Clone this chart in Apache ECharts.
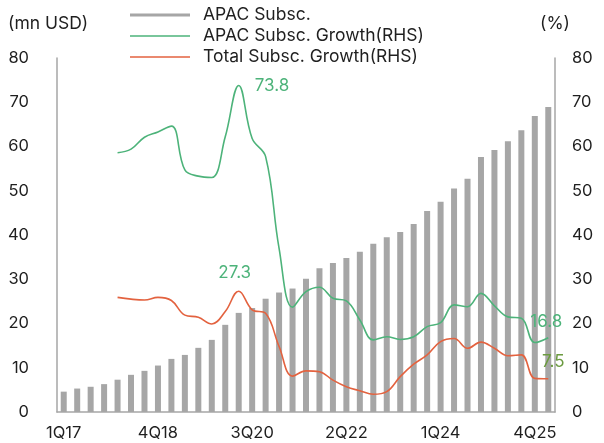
<!DOCTYPE html>
<html>
<head>
<meta charset="utf-8">
<script src="https://cdn.jsdelivr.net/npm/echarts@6/dist/echarts.min.js"></script>
<style>
  html, body { margin: 0; padding: 0; background: #fff; }
  #chart { width: 604px; height: 443px; }
</style>
</head>
<body>
<div id="chart"></div>
<script>
// quarters 1Q17 .. 1Q26
const quarters = [];
for (let y = 17; y <= 26; y++) {
  for (let q = 1; q <= 4; q++) {
    if (y === 26 && q > 1) break;
    quarters.push(q + "Q" + y);
  }
}

const apacSubsc = [
  4.6, 5.3, 5.7, 6.3, 7.3, 8.4, 9.3, 10.5, 12.0, 12.9,
  14.5, 16.3, 19.7, 22.4, 23.5, 25.6, 27.0, 27.9, 30.1, 32.5,
  33.7, 34.8, 36.2, 38.0, 39.5, 40.7, 42.5, 45.4, 47.5, 50.5,
  52.7, 57.6, 59.2, 61.2, 63.7, 66.9, 68.9
];

const apacGrowth = [
  null, null, null, null, 58.6, 59.4, 62.1, 63.3, 64.6, 54.7,
  53.3, 53.0, 62.2, 73.8, 61.8, 57.7, 37.0, 23.7, 27.2, 28.2,
  25.7, 25.1, 20.8, 16.3, 17.0, 16.4, 17.0, 19.3, 20.2, 24.2,
  23.8, 26.8, 24.0, 21.5, 21.2, 15.7, 16.8
];

const totalGrowth = [
  null, null, null, null, 25.9, 25.5, 25.3, 25.9, 25.2, 21.9,
  21.4, 19.9, 22.7, 27.3, 23.1, 22.3, 14.8, 8.1, 9.3, 9.1,
  7.2, 5.7, 4.8, 4.0, 4.6, 8.0, 10.8, 12.9, 15.9, 16.6,
  14.4, 15.8, 14.4, 12.7, 12.9, 7.6, 7.5
];

const fontFamily = "Inter, 'Noto Sans', sans-serif";
const textColor = "#1f1f1f";
const axisColor = "#a6a6a6";
const barColor = "#a6a6a6";
const greenColor = "#4db37a";
const redColor = "#e3623f";
const oliveColor = "#6b9a3f";

const labelled = (arr, idx, label) =>
  arr.map((v, i) => (i === idx ? { value: v, label: label } : v));

const chart = echarts.init(document.getElementById("chart"));

const option = {
  animation: false,
  textStyle: { fontFamily: fontFamily },
  grid: { left: 57, right: 49, top: 58, bottom: 31 },
  legend: {
    orient: "vertical",
    left: 125,
    top: 1,
    itemWidth: 60,
    itemHeight: 3,
    itemGap: 3,
    textStyle: {
      fontSize: 17.5, lineHeight: 18, color: textColor,
      fontFamily: fontFamily, padding: [0, 0, 0, 8]
    },
    data: [
      { name: "APAC Subsc.", icon: "rect" },
      { name: "APAC Subsc. Growth(RHS)", icon: "path://M0,0H60V1.4H0Z" },
      { name: "Total Subsc. Growth(RHS)", icon: "path://M0,0H60V1.4H0Z" }
    ]
  },
  graphic: [
    { type: "text", left: 8, top: 15, style: { text: "(mn USD)", fontSize: 17.5, fill: textColor, fontFamily: fontFamily } },
    { type: "text", left: 540, top: 15, style: { text: "(%)", fontSize: 17.5, fill: textColor, fontFamily: fontFamily } }
  ],
  xAxis: {
    type: "category",
    data: quarters,
    axisLine: { lineStyle: { color: axisColor, width: 1.5 } },
    axisTick: { show: false },
    axisLabel: { interval: 6, color: textColor, fontSize: 16.5, margin: 13 }
  },
  yAxis: [
    {
      type: "value",
      min: 0,
      max: 80,
      interval: 10,
      axisLine: { show: true, lineStyle: { color: axisColor, width: 1.5 } },
      axisTick: { show: false },
      splitLine: { show: false },
      axisLabel: { color: textColor, fontSize: 16.5, margin: 28 }
    },
    {
      type: "value",
      min: 0,
      max: 80,
      interval: 10,
      position: "right",
      axisLine: { show: true, lineStyle: { color: axisColor, width: 1.5 } },
      axisTick: { show: false },
      splitLine: { show: false },
      axisLabel: { color: textColor, fontSize: 16.5, margin: 17 }
    }
  ],
  series: [
    {
      name: "APAC Subsc.",
      type: "bar",
      data: apacSubsc,
      barWidth: 6,
      itemStyle: { color: barColor }
    },
    {
      name: "APAC Subsc. Growth(RHS)",
      type: "line",
      yAxisIndex: 1,
      smooth: 0.4,
      showSymbol: true,
      symbol: "circle",
      symbolSize: 0,
      itemStyle: { color: greenColor },
      lineStyle: { color: greenColor, width: 1.6 },
      data: labelled(
        labelled(apacGrowth, 13, {
          show: true, position: "right", distance: 16, offset: [0, 0],
          color: greenColor, fontSize: 17, fontFamily: fontFamily
        }),
        36, {
          show: true, position: "top", distance: 7, offset: [-2, 0],
          color: greenColor, fontSize: 17, fontFamily: fontFamily
        }
      )
    },
    {
      name: "Total Subsc. Growth(RHS)",
      type: "line",
      yAxisIndex: 1,
      smooth: 0.4,
      showSymbol: true,
      symbol: "circle",
      symbolSize: 0,
      itemStyle: { color: redColor },
      lineStyle: { color: redColor, width: 1.6 },
      data: labelled(
        labelled(totalGrowth, 13, {
          show: true, position: "top", distance: 10, offset: [-4, 0],
          color: greenColor, fontSize: 17, fontFamily: fontFamily
        }),
        36, {
          show: true, position: "top", distance: 8, offset: [5, 0],
          color: oliveColor, fontSize: 17, fontFamily: fontFamily
        }
      )
    }
  ]
};

chart.setOption(option);
</script>
</body>
</html>
